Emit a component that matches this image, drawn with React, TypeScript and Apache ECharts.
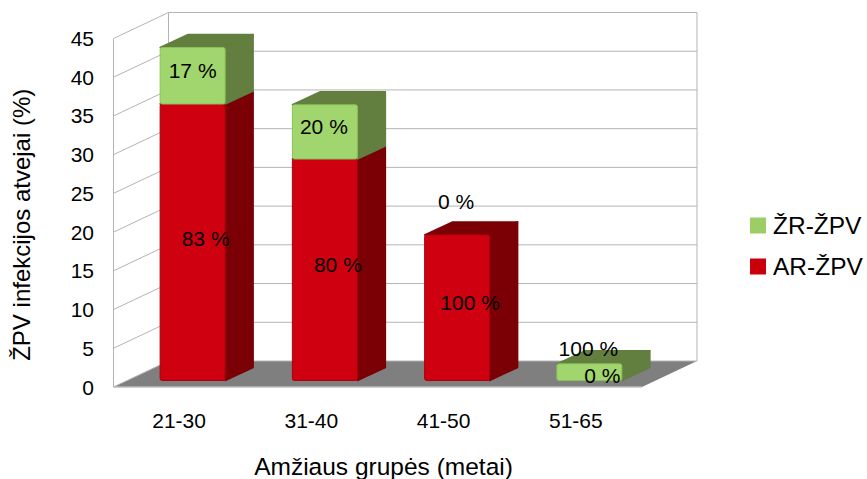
import React, { useEffect, useRef } from "react";
import * as echarts from "echarts";

// Age groups on the category axis
const categories = ["21-30", "31-40", "41-50", "51-65"];
// Case counts per group, drawn as stacked 3D columns
const arValues = [35.7, 28.6, 18.8, 0];
const zrValues = [7.3, 7.0, 0, 2.15];
// Share of each type inside its group
const arShares = ["83 %", "80 %", "100 %", "0 %"];
const zrShares = ["17 %", "20 %", "0 %", "100 %"];
const valueTicks = [0, 5, 10, 15, 20, 25, 30, 35, 40, 45];

const AR_NAME = "AR-ŽPV";
const ZR_NAME = "ŽR-ŽPV";
const FONT = '"Liberation Sans", Arial, sans-serif';

// Oblique projection: how far the floor recedes, and where a column sits in that depth
const WALL_DX = 55;
const WALL_DY = -26;
const BAR_DX = 13.5;
const BAR_DY = -6.5;
const BAR_DEPTH_DX = 28;
const BAR_DEPTH_DY = -13;
const BAR_FRONT_WIDTH = 65;

// Nudges of the percentage labels from the middle of their segment
const arLabelNudge = [[13, -4], [13, -5], [13, -5], [13, -5]];
const zrLabelNudge = [[0, -5], [-1, -5], [-1, -33], [-1, -24]];

const wallRenderer = (_params: any, api: any) => {
  const v = api.value(1);
  const band = api.size([1, 0])[0];
  const [x0, y] = api.coord([0, v]);
  const [x3] = api.coord([categories.length - 1, v]);
  const left = Math.round(x0 - band / 2) + 0.5;
  const right = x3 + band / 2;
  const line = { stroke: "#b4b4b4", lineWidth: 1, fill: "none" };
  const children: any[] = [
    {
      type: "polyline",
      shape: { points: [[left, y], [left + WALL_DX, y + WALL_DY], [right + WALL_DX, y + WALL_DY]] },
      style: line,
    },
  ];
  if (v === 0) {
    const [, top] = api.coord([0, valueTicks[valueTicks.length - 1]]);
    children.unshift({
      type: "polygon",
      shape: { points: [[left, y], [right, y], [right + WALL_DX, y + WALL_DY], [left + WALL_DX, y + WALL_DY]] },
      style: { fill: "#7f7f7f" },
    });
    children.push(
      { type: "line", shape: { x1: left, y1: y, x2: right, y2: y }, style: { stroke: "#bdbdbd", lineWidth: 1.5 } },
      { type: "line", shape: { x1: left, y1: y, x2: left, y2: top }, style: line },
      { type: "line", shape: { x1: left + WALL_DX, y1: y + WALL_DY, x2: left + WALL_DX, y2: top + WALL_DY }, style: line },
      { type: "line", shape: { x1: right + WALL_DX, y1: y + WALL_DY, x2: right + WALL_DX, y2: top + WALL_DY }, style: line },
    );
  }
  return { type: "group", children };
};

const columnRenderer = (front: string, edge: string, side: string) => (_params: any, api: any) => {
  const i = api.value(0);
  const [cx, yEnd] = api.coord([i, api.value(2)]);
  const [, yStart] = api.coord([i, api.value(1)]);
  const x1 = cx + BAR_DX - BAR_FRONT_WIDTH / 2;
  const x2 = x1 + BAR_FRONT_WIDTH;
  const yTop = yEnd + BAR_DY;
  const yBottom = yStart + BAR_DY;
  if (yBottom - yTop <= 0.5) return { type: "group", children: [] };
  const backX = x2 + BAR_DEPTH_DX;
  const shade = { fill: side, stroke: side, lineWidth: 1.5, lineJoin: "round" };
  return {
    type: "group",
    children: [
      {
        type: "polygon",
        shape: { points: [[x2, yTop], [backX, yTop + BAR_DEPTH_DY], [backX, yBottom + BAR_DEPTH_DY], [x2, yBottom]] },
        style: shade,
      },
      {
        type: "polygon",
        shape: { points: [[x1, yTop], [x1 + BAR_DEPTH_DX, yTop + BAR_DEPTH_DY], [backX, yTop + BAR_DEPTH_DY], [x2, yTop]] },
        style: shade,
      },
      {
        type: "rect",
        shape: { x: x1, y: yTop, width: BAR_FRONT_WIDTH, height: yBottom - yTop, r: 2 },
        style: { fill: front, stroke: edge, lineWidth: 1 },
      },
    ],
  };
};

// Percentages go in their own series so that they stay above every column
const shareRenderer = (shares: string[], nudges: number[][]) => (_params: any, api: any) => {
  const i = api.value(0);
  const [cx, yEnd] = api.coord([i, api.value(2)]);
  const [, yStart] = api.coord([i, api.value(1)]);
  return {
    type: "text",
    style: {
      text: shares[i],
      x: cx + BAR_DX + nudges[i][0],
      y: (yEnd + yStart) / 2 + BAR_DY + nudges[i][1],
      align: "center",
      verticalAlign: "middle",
      font: `21px ${FONT}`,
      fill: "#000000",
    },
  };
};

const stackedRows = (lower: number[], upper: number[] | null) =>
  categories.map((_, i) => {
    const start = upper ? lower[i] : 0;
    return [i, start, start + (upper ? upper[i] : lower[i])];
  });

const arRows = stackedRows(arValues, null);
const zrRows = stackedRows(arValues, zrValues);

export default function App() {
  const ref = useRef<HTMLDivElement>(null);
  useEffect(() => {
    const chart = echarts.init(ref.current!, undefined, { renderer: "svg" });
    chart.setOption({
      animation: false,
      backgroundColor: "#ffffff",
      grid: { left: 113, top: 38.5, width: 529, height: 348.5, outerBoundsMode: "none", containLabel: false },
      legend: {
        data: [ZR_NAME, AR_NAME],
        orient: "vertical",
        left: 750,
        top: 213,
        padding: 0,
        itemWidth: 16,
        itemHeight: 16,
        itemGap: 16,
        textStyle: { fontFamily: FONT, fontSize: 24.5, color: "#000000", padding: [0, 0, 0, 2] },
        icon: "rect",
      },
      xAxis: {
        type: "category",
        data: categories,
        name: "Amžiaus grupės (metai)",
        nameLocation: "middle",
        nameGap: 67,
        nameTextStyle: { fontFamily: FONT, fontSize: 24.5, color: "#000000", padding: [0, 0, 0, 12] },
        axisLine: { show: false },
        axisTick: { show: false },
        axisLabel: { fontFamily: FONT, fontSize: 21, color: "#000000", margin: 23 },
      },
      yAxis: {
        type: "value",
        min: 0,
        max: 45,
        interval: 5,
        name: "ŽPV infekcijos atvejai (%)",
        nameLocation: "middle",
        nameRotate: 90,
        nameGap: 80,
        nameTextStyle: { fontFamily: FONT, fontSize: 24, color: "#000000", padding: [0, 24, 0, 0] },
        splitLine: { show: false },
        axisLine: { show: false },
        axisTick: { show: false },
        axisLabel: { fontFamily: FONT, fontSize: 21, color: "#000000", margin: 19 },
      },
      series: [
        {
          type: "custom",
          name: "walls",
          silent: true,
          z: 1,
          clip: false,
          data: valueTicks.map((v) => [0, v]),
          encode: { x: 0, y: 1 },
          renderItem: wallRenderer,
        },
        {
          type: "custom",
          name: AR_NAME,
          z: 2,
          clip: false,
          itemStyle: { color: "#c8000b" },
          data: arRows,
          encode: { x: 0, y: [1, 2] },
          renderItem: columnRenderer("#cf000f", "#a8000c", "#7a0006"),
        },
        {
          type: "custom",
          name: ZR_NAME,
          z: 3,
          clip: false,
          itemStyle: { color: "#9bcf66" },
          data: zrRows,
          encode: { x: 0, y: [1, 2] },
          renderItem: columnRenderer("#a0d66d", "#8cc05c", "#627f3f"),
        },
        {
          type: "custom",
          name: "AR shares",
          z: 4,
          clip: false,
          silent: true,
          data: arRows,
          encode: { x: 0, y: [1, 2] },
          renderItem: shareRenderer(arShares, arLabelNudge),
        },
        {
          type: "custom",
          name: "ZR shares",
          z: 4,
          clip: false,
          silent: true,
          data: zrRows,
          encode: { x: 0, y: [1, 2] },
          renderItem: shareRenderer(zrShares, zrLabelNudge),
        },
      ],
    });
    return () => chart.dispose();
  }, []);
  return <div ref={ref} style={{ position: "absolute", left: 0, top: 0, width: 867, height: 479 }} />;
}
